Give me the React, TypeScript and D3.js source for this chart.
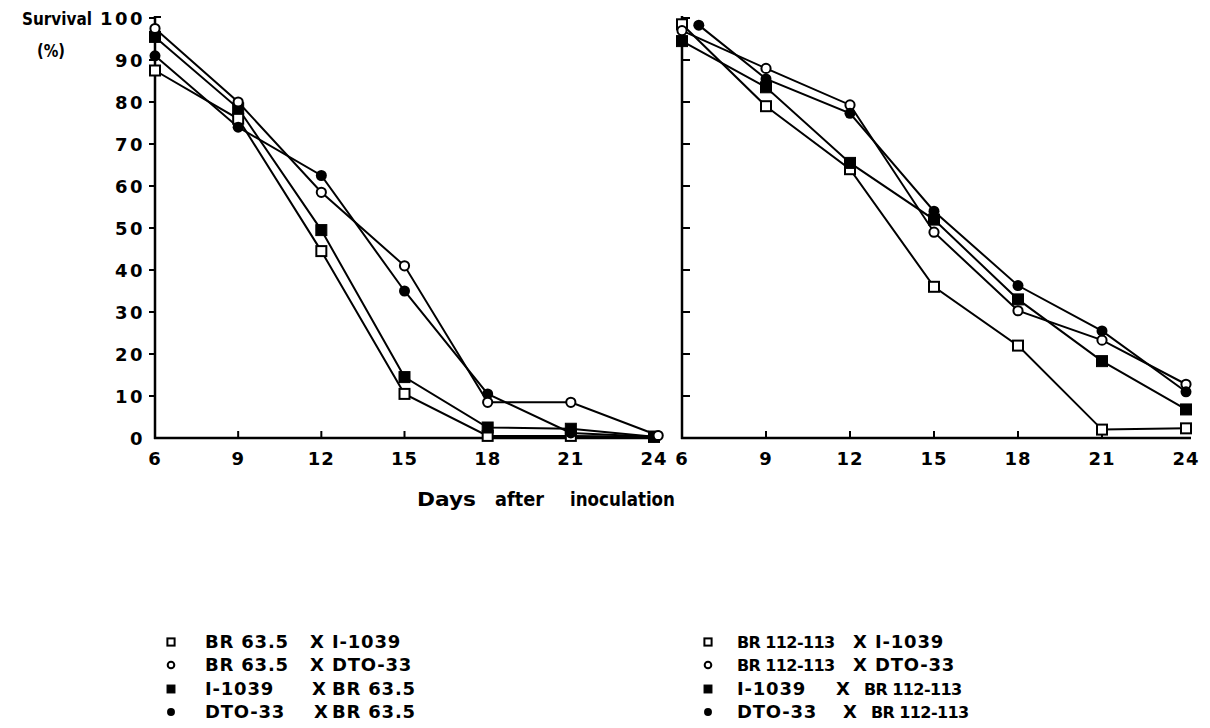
import React from "react";
import * as d3 from "d3";

const days = [6, 9, 12, 15, 18, 21, 24];
const yTicks = [0, 10, 20, 30, 40, 50, 60, 70, 80, 90, 100];

// Left panel (BR 63.5 crosses)
const leftOpenSquare = [87.5, 76, 44.5, 10.5, 0.5, 0.5, 0.3];
const leftOpenCircle = [97.5, 80, 58.5, 41, 8.5, 8.5, 0.6];
const leftFilledSquare = [95.5, 78.5, 49.5, 14.5, 2.5, 2.2, 0.3];
const leftFilledCircle = [91, 74, 62.5, 35, 10.5, 1.2, 0.3];
const leftOpenCircleDays = [6, 9, 12, 15, 18, 21, 24.15];

// Right panel (BR 112-113 crosses)
const rightOpenSquare = [98.5, 79, 64, 36, 22, 2, 2.3];
const rightOpenCircle = [97, 88, 79.3, 49, 30.3, 23.3, 12.8];
const rightFilledSquare = [94.5, 83.5, 65.5, 52, 33, 18.3, 6.8];
const rightFilledCircle = [98.3, 85.5, 77.3, 54, 36.3, 25.5, 11];
const rightFilledCircleDays = [6.6, 9, 12, 15, 18, 21, 24];

const leftLegendA = ["BR 63.5", "BR 63.5", "I-1039", "DTO-33"];
const leftLegendB = ["I-1039", "DTO-33", "BR 63.5", "BR 63.5"];
const rightLegendA = ["BR 112-113", "BR 112-113", "I-1039", "DTO-33"];
const rightLegendB = ["I-1039", "DTO-33", "BR 112-113", "BR 112-113"];
const markerKinds = ["openSquare", "openCircle", "filledSquare", "filledCircle"];

const FONT = "'DejaVu Sans', sans-serif";

function Marker({ kind, x, y, s = 1 }: { kind: string; x: number; y: number; s?: number }) {
  if (kind === "openSquare")
    return <rect x={x - 5 * s} y={y - 5 * s} width={10 * s} height={10 * s} fill="white" stroke="black" strokeWidth={2} />;
  if (kind === "filledSquare")
    return <rect x={x - 5.5 * s} y={y - 5.5 * s} width={11 * s} height={11 * s} fill="black" stroke="black" strokeWidth={1} />;
  if (kind === "openCircle")
    return <circle cx={x} cy={y} r={4.6 * s} fill="white" stroke="black" strokeWidth={2} />;
  return <circle cx={x} cy={y} r={5.5 * s} fill="black" />;
}

function Panel({
  x0, x1, series, leftLabels,
}: {
  x0: number; x1: number;
  series: { kind: string; xs: number[]; ys: number[] }[];
  leftLabels: boolean;
}) {
  const x = d3.scaleLinear().domain([6, 24]).range([x0, x1]);
  const y = d3.scaleLinear().domain([0, 100]).range([438, 18]);
  const line = d3.line<[number, number]>().x((d) => x(d[0])).y((d) => y(d[1]));
  return (
    <g>
      <line x1={x0} x2={x0} y1={y(0) + 1} y2={16} stroke="black" strokeWidth={2.5} />
      <line x1={x0 - 1} x2={x1 + 5} y1={y(0)} y2={y(0)} stroke="black" strokeWidth={2.5} />
      {yTicks.filter((t) => t > 0).map((t) =>
        leftLabels ? (
          <line key={t} x1={x0 - 6} x2={x0} y1={y(t)} y2={y(t)} stroke="black" strokeWidth={2} />
        ) : (
          <line key={t} x1={x0} x2={x0 + 8} y1={y(t)} y2={y(t)} stroke="black" strokeWidth={2} />
        )
      )}
      {leftLabels && <line x1={x0} x2={x0 + 6} y1={y(100) - 1} y2={y(100) - 1} stroke="black" strokeWidth={2} />}
      {leftLabels && yTicks.map((t) => (
        <text key={"l" + t} x={x0 - 10} y={y(t) + 6.5} textAnchor="end" fontFamily={FONT} fontWeight="bold" fontSize={18} letterSpacing={2.5}>
          {t}
        </text>
      ))}
      {days.filter((d) => d > 6 && d < 24).map((d) => (
        <line key={"t" + d} x1={x(d)} x2={x(d)} y1={y(0)} y2={y(0) - 7} stroke="black" strokeWidth={2} />
      ))}
      {days.map((d) => (
        <text key={"x" + d} x={x(d)} y={465} textAnchor="middle" fontFamily={FONT} fontWeight="bold" fontSize={18} letterSpacing={1}>
          {d}
        </text>
      ))}
      {series.map((s, i) => (
        <path key={"p" + i} d={line(s.xs.map((d, j) => [d, s.ys[j]]) as [number, number][]) || ""} fill="none" stroke="black" strokeWidth={2} />
      ))}
      {series.map((s, i) =>
        s.xs.map((d, j) => <Marker key={"m" + i + "-" + j} kind={s.kind} x={x(d)} y={y(s.ys[j])} />)
      )}
    </g>
  );
}

export default function App() {
  const leftSeries = [
    { kind: "openSquare", xs: days, ys: leftOpenSquare },
    { kind: "filledSquare", xs: days, ys: leftFilledSquare },
    { kind: "filledCircle", xs: days, ys: leftFilledCircle },
    { kind: "openCircle", xs: leftOpenCircleDays, ys: leftOpenCircle },
  ];
  const rightSeries = [
    { kind: "openSquare", xs: days, ys: rightOpenSquare },
    { kind: "openCircle", xs: days, ys: rightOpenCircle },
    { kind: "filledSquare", xs: days, ys: rightFilledSquare },
    { kind: "filledCircle", xs: rightFilledCircleDays, ys: rightFilledCircle },
  ];
  const legendY = [648, 671, 695, 718];
  const leftX = [310, 310, 312, 314];
  const rightX = [853, 853, 836, 843];
  const rightB = [875, 875, 864, 871];
  const legendText = (x: number, y: number, t: string, k: string) => {
    const long = t === "BR 112-113";
    return (
      <text key={k} x={x} y={y} fontFamily={FONT} fontWeight="bold" fontSize={long ? 16 : 18} letterSpacing={long ? -0.6 : 0.8}>{t}</text>
    );
  };
  return (
    <svg width={1194} height={720} style={{ display: "block", background: "white" }}>
      <g transform="translate(-8,-8)">
        <text x={22} y={25} textLength={70} lengthAdjust="spacingAndGlyphs" fontFamily={FONT} fontWeight="bold" fontSize={17}>Survival</text>
        <text x={37} y={57} textLength={28} lengthAdjust="spacingAndGlyphs" fontFamily={FONT} fontWeight="bold" fontSize={17}>(%)</text>
        <Panel x0={155} x1={654} series={leftSeries} leftLabels={true} />
        <Panel x0={682} x1={1186} series={rightSeries} leftLabels={false} />
        <text y={506} fontFamily={FONT} fontWeight="bold" fontSize={20}>
          <tspan x={417} textLength={59} lengthAdjust="spacingAndGlyphs">Days</tspan>
          <tspan x={495} textLength={49} lengthAdjust="spacingAndGlyphs">after</tspan>
          <tspan x={570} textLength={105} lengthAdjust="spacingAndGlyphs">inoculation</tspan>
        </text>
        {leftLegendA.map((t, i) => (
          <g key={"ll" + i}>
            <Marker kind={markerKinds[i]} x={171} y={legendY[i] - 6} s={0.72} />
            {legendText(205, legendY[i], t, "a")}
            {legendText(leftX[i], legendY[i], "X", "x")}
            {legendText(332, legendY[i], leftLegendB[i], "b")}
          </g>
        ))}
        {rightLegendA.map((t, i) => (
          <g key={"rl" + i}>
            <Marker kind={markerKinds[i]} x={708} y={legendY[i] - 6} s={0.72} />
            {legendText(737, legendY[i], t, "a")}
            {legendText(rightX[i], legendY[i], "X", "x")}
            {legendText(rightB[i], legendY[i], rightLegendB[i], "b")}
          </g>
        ))}
      </g>
    </svg>
  );
}
